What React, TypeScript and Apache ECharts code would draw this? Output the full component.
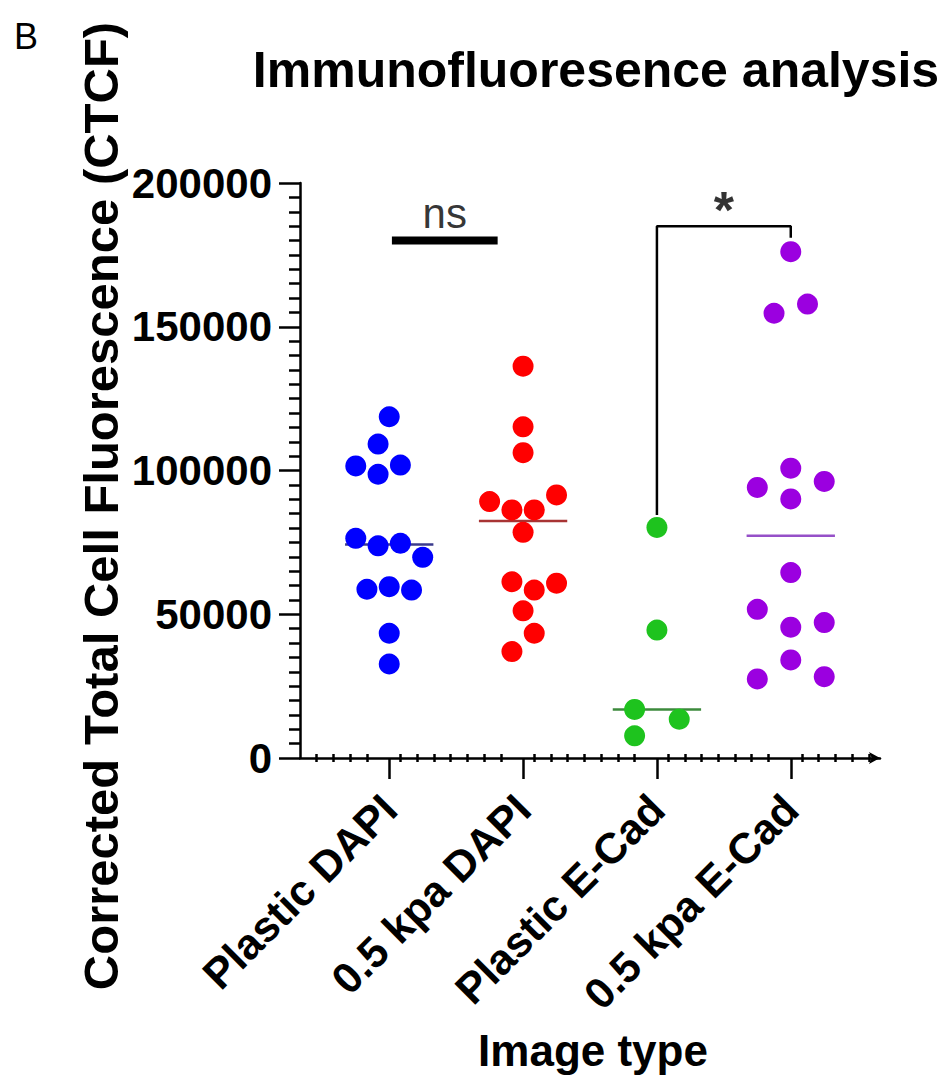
import React, { useEffect, useRef } from "react";
import * as echarts from "echarts";

const categories = ["Plastic DAPI", "0.5 kpa DAPI", "Plastic E-Cad", "0.5 kpa E-Cad"];

// values (CTCF) and horizontal swarm slot of every point
const plasticDapi = [118700, 109200, 101600, 101900, 98700, 76400, 73800, 74700, 69800, 58700, 59600, 58400, 43400, 32700];
const plasticDapiSlot = [0, -1, -3, 1, -1, -3, -1, 1, 3, -2, 0, 2, 0, 0];

const kpaDapi = [136300, 115200, 106200, 89200, 86300, 86300, 91500, 78500, 61300, 58400, 60800, 51200, 43400, 37000];
const kpaDapiSlot = [0, 0, 0, -3, -1, 1, 3, 0, -1, 1, 3, 0, 1, -1];

const plasticECad = [80200, 44500, 16900, 13500, 7700];
const plasticECadSlot = [0, 0, -2, 2, -2];

const kpaECad = [176100, 154700, 157900, 100800, 94100, 96200, 90100, 64500, 51700, 45500, 47100, 34100, 27500, 28300];
const kpaECadSlot = [0, -1.5, 1.5, 0, -3, 3, 0, 0, -3, 0, 3, 0, -3, 3];

const dotColors = ["#0000ff", "#ff0000", "#1ec31e", "#9b00e0"];
const medianColors = ["#3a3a8c", "#a83434", "#3c8a3c", "#9650c8"];

// significance annotations
const nsLevel = 180000;
const nsFrom = 1.02;
const nsTo = 1.81;
const bracketTop = 185000;
const bracketLeftBottom = 84500;
const bracketRightBottom = 181000;

const FONT = '"Liberation Sans", Arial, sans-serif';
const SLOT = 1 / 12;
const X_MIN = 1 / 3;
const X_MAX = 14 / 3;

function median(a: number[]) {
  const s = [...a].sort((x, y) => x - y);
  const m = Math.floor(s.length / 2);
  return s.length % 2 ? s[m] : (s[m - 1] + s[m]) / 2;
}

export default function App() {
  const ref = useRef<HTMLDivElement>(null);
  useEffect(() => {
    if (!ref.current) return;
    const chart = echarts.init(ref.current, null, { renderer: "svg" });
    const groups = [
      [plasticDapi, plasticDapiSlot],
      [kpaDapi, kpaDapiSlot],
      [plasticECad, plasticECadSlot],
      [kpaECad, kpaECadSlot],
    ] as [number[], number[]][];

    const minorVals: number[] = [];
    for (let k = 1; X_MIN + k / 8 < X_MAX - 0.01; k++) {
      const v = X_MIN + k / 8;
      if (Math.abs(v - Math.round(v)) > 0.05) minorVals.push(v);
    }

    const black = { color: "#000", width: 2.5 };
    const series: any[] = [];
    groups.forEach(([vals, slots], i) => {
      const c = i + 1;
      const med = median(vals);
      series.push({
        type: "line",
        name: categories[i] + " median",
        data: [[c - 0.33, med], [c + 0.33, med]],
        symbol: "none",
        lineStyle: { color: medianColors[i], width: 2.5 },
        z: 2,
        silent: true,
      });
      series.push({
        type: "scatter",
        name: categories[i],
        data: vals.map((v, j) => [c + slots[j] * SLOT, v]),
        symbol: "circle",
        symbolSize: 21,
        itemStyle: { color: dotColors[i], opacity: 1 },
        z: 3,
      });
    });
    series.push({
      type: "line",
      data: [[nsFrom, nsLevel], [nsTo, nsLevel]],
      symbol: "none",
      lineStyle: { color: "#000", width: 8 },
      silent: true,
    });
    series.push({
      type: "line",
      data: [[3, bracketLeftBottom], [3, bracketTop], [4, bracketTop], [4, bracketRightBottom]],
      symbol: "none",
      lineStyle: { color: "#000", width: 2.5 },
      silent: true,
    });
    series.push({
      type: "scatter",
      symbolSize: 0,
      silent: true,
      data: [
        {
          value: [(nsFrom + nsTo) / 2, nsLevel],
          label: { formatter: "ns", fontSize: 42, fontWeight: "normal", distance: 6, color: "#000" },
        },
        {
          value: [3.5, bracketTop],
          label: { formatter: "*", fontSize: 52, fontWeight: "bold", distance: -10, color: "#000" },
        },
      ],
      label: { show: true, position: "top", color: "#000", fontFamily: FONT },
    });

    const minorAxis = (inside: boolean) => ({
      type: "value",
      min: X_MIN,
      max: X_MAX,
      position: "bottom",
      axisLine: { show: false, onZero: false },
      axisTick: { show: true, customValues: minorVals, length: 4, inside, lineStyle: black },
      axisLabel: { show: false },
      splitLine: { show: false },
    });

    chart.setOption({
      animation: false,
      backgroundColor: "#fff",
      title: {
        text: "Immunofluoresence analysis",
        left: 591,
        top: 40,
        textAlign: "center",
        textStyle: { fontFamily: FONT, fontSize: 50, fontWeight: "bold", color: "#000" },
      },
      grid: { left: 300, top: 183, width: 580, height: 575 },
      xAxis: [
        {
          type: "value",
          min: X_MIN,
          max: X_MAX,
          position: "bottom",
          axisLine: {
            show: true,
            onZero: false,
            lineStyle: black,
            symbol: ["none", "arrow"],
            symbolSize: [9, 11],
          },
          axisTick: { show: true, customValues: [1, 2, 3, 4], length: 21, lineStyle: black },
          axisLabel: {
            customValues: [1, 2, 3, 4],
            formatter: (v: number) => categories[Math.round(v) - 1] ?? "",
            rotate: 45,
            margin: 44,
            fontSize: 43,
            fontWeight: "bold",
            color: "#000",
            fontFamily: FONT,
          },
          splitLine: { show: false },
        },
        minorAxis(false),
        minorAxis(true),
      ],
      yAxis: {
        type: "value",
        min: 0,
        max: 200000,
        interval: 50000,
        axisLine: { show: true, lineStyle: black },
        axisTick: { show: true, length: 21, lineStyle: black },
        minorTick: { show: true, splitNumber: 10, length: 11, lineStyle: black },
        axisLabel: {
          formatter: (v: number) => String(v),
          fontSize: 42,
          fontWeight: "bold",
          color: "#000",
          fontFamily: FONT,
          margin: 28,
        },
        splitLine: { show: false },
      },
      graphic: [
        {
          type: "text",
          left: 14,
          top: 18,
          style: { text: "B", fontSize: 36, fontFamily: FONT, fontWeight: "normal", fill: "#000" },
        },
        {
          type: "text",
          x: 101,
          y: 506,
          rotation: Math.PI / 2,
          style: {
            text: "Corrected Total Cell Fluorescence (CTCF)",
            font: 'bold 49px "Liberation Sans", Arial, sans-serif',
            fill: "#000",
            align: "center",
            verticalAlign: "middle",
            textAlign: "center",
            textVerticalAlign: "middle",
          },
        },
        {
          type: "text",
          x: 593,
          y: 1050,
          style: {
            text: "Image type",
            font: 'bold 44px "Liberation Sans", Arial, sans-serif',
            fill: "#000",
            align: "center",
            verticalAlign: "middle",
            textAlign: "center",
            textVerticalAlign: "middle",
          },
        },
      ],
      series,
    });
    return () => chart.dispose();
  }, []);
  return <div ref={ref} style={{ position: "fixed", left: 0, top: 0, width: 939, height: 1082 }} />;
}
